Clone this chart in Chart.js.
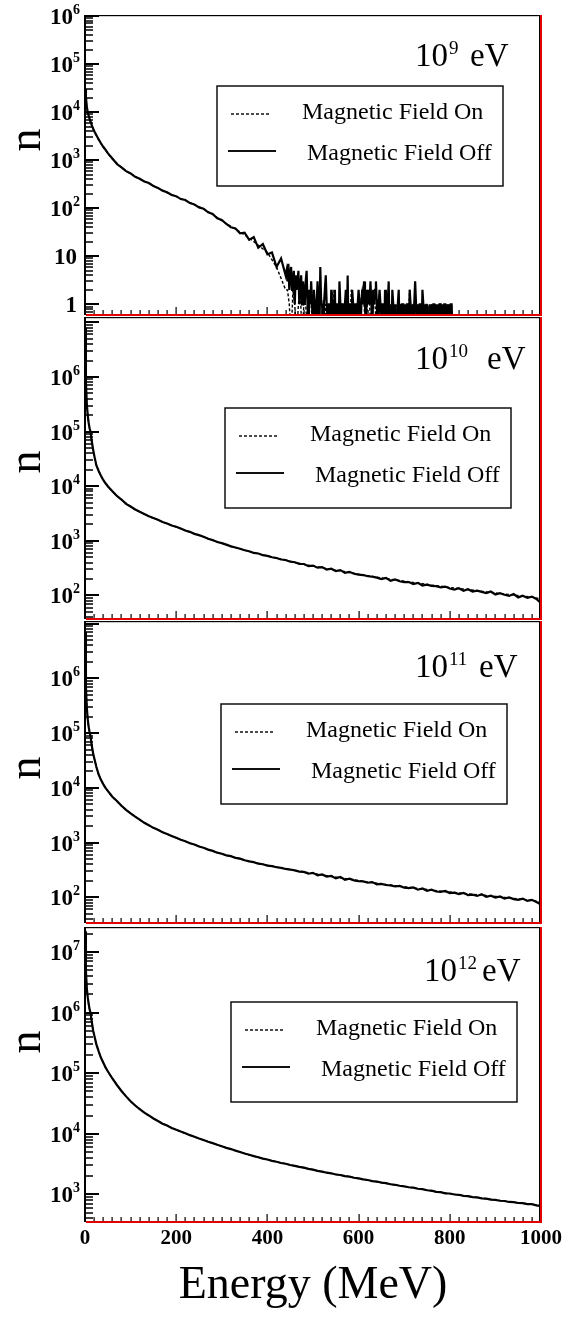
<!DOCTYPE html>
<html lang="en">
<head>
<meta charset="utf-8">
<title>Energy spectra - Magnetic Field On / Off</title>
<script src="https://cdn.jsdelivr.net/npm/chart.js@4.4.1/dist/chart.umd.min.js"></script>
<style>
  html, body { margin: 0; padding: 0; background: #fff; overflow: hidden; }
  #lienzo { position: relative; width: 569px; height: 1320px; }
  #lienzo canvas { position: absolute; left: 0; top: 0; }
</style>
</head>
<body>
<div id="lienzo">
  <canvas id="panel1" width="569" height="1320"></canvas>
  <canvas id="panel2" width="569" height="1320"></canvas>
  <canvas id="panel3" width="569" height="1320"></canvas>
  <canvas id="panel4" width="569" height="1320"></canvas>
</div>
<script>
// Energias (MeV) de los bins
const E_P1_OFF = [1, 2, 4, 6, 8, 10, 12, 15, 18, 21, 25, 30, 35, 40, 45, 50,
  60, 70, 80, 90, 100, 110, 120, 130, 140, 150, 160, 170, 180, 190, 200, 210, 220, 230, 240, 250,
  260, 270, 280, 290, 300, 310, 320, 330, 340, 350, 360, 370, 380, 390, 400, 410, 420, 430, 440,
  442, 444, 446, 448, 450, 452, 454, 456, 458, 460, 462, 464, 466, 468, 470, 472, 474, 476, 478, 480,
  482, 484, 486, 488, 490, 492, 494, 496, 498, 500, 502, 504, 506, 508, 510, 512, 514, 516, 518, 520,
  522, 524, 526, 528, 530, 532, 534, 536, 538, 540, 542, 544, 546, 548, 550, 552, 554, 556, 558, 560,
  562, 564, 566, 568, 570, 572, 574, 576, 578, 580, 582, 584, 586, 588, 590, 592, 594, 596, 598, 600,
  602, 604, 606, 608, 610, 612, 614, 616, 618, 620, 622, 624, 626, 628, 630, 632, 634, 636, 638, 640,
  642, 644, 646, 648, 650, 652, 654, 656, 658, 660, 662, 664, 666, 668, 670, 672, 674, 676, 678, 680,
  682, 684, 686, 688, 690, 692, 694, 696, 698, 700, 702, 704, 706, 708, 710, 712, 714, 716, 718, 720,
  722, 724, 726, 728, 730, 732, 734, 736, 738, 740, 742, 744, 746, 748, 750, 752, 754, 756, 758, 760,
  762, 764, 766, 768, 770, 772, 774, 776, 778, 780, 782, 784, 786, 788, 790, 792, 794, 796, 798, 800,
  802, 804, 806, 808, 810];
const E_P1_ON = [1, 2, 4, 6, 8, 10, 12, 15, 18, 21, 25, 30, 35, 40, 45, 50,
  60, 80, 100, 120, 140, 160, 180, 200, 220, 240, 260, 280, 300, 320, 340, 360, 380, 400, 420, 440,
  444, 448, 452, 456, 460, 464, 468, 472, 476, 480, 484, 488, 492, 496, 500, 504, 508, 512, 516, 520,
  524, 528, 532, 536, 540, 544, 548, 552, 556, 560, 564, 568, 572, 576, 580, 584, 588, 592, 596, 600,
  604, 608, 612, 616, 620, 624, 628, 632, 636, 640, 644, 648, 652, 656, 660, 664, 668, 672, 676, 680,
  684, 688, 692, 696, 700, 704, 708, 712, 716, 720, 724, 728, 732, 736, 740, 744, 748, 752, 756, 760,
  764, 768, 772, 776, 780, 784, 788, 792, 796, 800, 804, 808];
const E_OFF = [1, 2, 4, 6, 8, 10, 12, 15, 18, 21, 25, 30, 35, 40, 45, 50,
  60, 70, 80, 90, 100, 110, 120, 130, 140, 150, 160, 170, 180, 190, 200, 210, 220, 230, 240, 250,
  260, 270, 280, 290, 300, 310, 320, 330, 340, 350, 360, 370, 380, 390, 400, 410, 420, 430, 440, 450,
  460, 470, 480, 490, 500, 510, 520, 530, 540, 550, 560, 570, 580, 590, 600, 610, 620, 630, 640, 650,
  660, 670, 680, 690, 700, 710, 720, 730, 740, 750, 760, 770, 780, 790, 800, 810, 820, 830, 840, 850,
  860, 870, 880, 890, 900, 910, 920, 930, 940, 950, 960, 970, 980, 990, 1000];
const E_ON = [1, 2, 4, 6, 8, 10, 12, 15, 18, 21, 25, 30, 35, 40, 45, 50,
  60, 80, 100, 120, 140, 160, 180, 200, 220, 240, 260, 280, 300, 320, 340, 360, 380, 400, 420, 440,
  460, 480, 500, 520, 540, 560, 580, 600, 620, 640, 660, 680, 700, 720, 740, 760, 780, 800, 820, 840,
  860, 880, 900, 920, 940, 960, 980, 1000];

// 10^9 eV (0 = bin vacio)
const N_P1_OFF = [30000, 21000, 13000, 10000, 8500, 7200, 6400, 5300, 4500, 3900, 3300, 2700, 2250, 1900, 1650, 1400,
  1080, 830, 710, 590, 530, 450, 410, 360, 335, 290, 265, 232, 215, 188, 178, 155, 148, 128, 120, 104,
  98, 82, 76, 62, 57, 47, 40, 38, 30, 31, 22, 25, 15, 18, 11, 12, 6, 9, 4,
  5, 3, 7, 2, 4, 6, 2, 3, 5, 1, 4, 2, 3, 5, 1, 2, 4, 1, 3, 2,
  1, 3, 5, 1, 0, 2, 1, 3, 1, 0, 2, 1, 0, 1, 3, 1, 0, 6, 1, 1,
  0, 1, 2, 4, 1, 0, 1, 1, 0, 2, 1, 0, 1, 2, 0, 1, 1, 0, 3, 1,
  0, 1, 1, 0, 1, 2, 0, 4, 0, 1, 1, 0, 2, 1, 0, 1, 1, 0, 1, 2,
  1, 0, 1, 2, 1, 3, 1, 0, 2, 1, 2, 1, 3, 1, 0, 2, 1, 2, 3, 1,
  0, 1, 2, 1, 0, 1, 1, 0, 2, 1, 0, 1, 3, 0, 1, 0, 2, 1, 0, 1,
  1, 0, 1, 2, 0, 1, 0, 1, 1, 0, 1, 0, 1, 1, 0, 2, 1, 0, 1, 0,
  1, 3, 1, 0, 1, 0, 1, 1, 0, 2, 1, 0, 1, 0, 1, 1, 0, 1, 0, 1,
  0, 1, 1, 0, 1, 0, 1, 0, 1, 1, 0, 1, 0, 1, 1, 0, 1, 0, 1, 0,
  1, 1, 0, 0, 0];
const N_P1_ON = [29000, 20000, 12500, 9800, 8300, 7100, 6300, 5200, 4400, 3850, 3250, 2650, 2200, 1880, 1620, 1380,
  1060, 700, 525, 405, 330, 262, 210, 175, 145, 118, 96, 74, 55, 42, 32, 24, 17, 12, 6, 2,
  2, 1, 0, 2, 1, 0, 1, 2, 0, 1, 1, 0, 2, 1, 0, 1, 1, 0, 2, 1,
  0, 1, 1, 0, 1, 2, 0, 1, 0, 1, 1, 0, 1, 1, 0, 2, 1, 0, 1, 0,
  1, 2, 1, 0, 2, 1, 0, 2, 1, 0, 1, 1, 0, 1, 0, 1, 1, 0, 1, 0,
  1, 0, 1, 1, 0, 1, 0, 2, 0, 1, 1, 0, 1, 0, 1, 0, 1, 1, 0, 1,
  0, 1, 0, 1, 1, 0, 1, 0, 1, 0, 1, 0];

// 10^10 eV
const N_P2_OFF = [8000000, 800000, 320000, 200000, 145000, 115000, 100000, 65000, 46000, 34000, 24000, 19000, 15500, 13000, 11300, 10000,
  8100, 6600, 5700, 4750, 4250, 3750, 3400, 3100, 2820, 2620,
  2420, 2210, 2080, 1900, 1810, 1680, 1540, 1460, 1340, 1270,
  1190, 1090, 1030, 950, 905, 850, 790, 755, 715, 670,
  645, 600, 585, 545, 530, 500, 485, 455, 445, 415,
  405, 378, 376, 345, 352, 322, 330, 298, 309, 280,
  290, 258, 270, 249, 240, 236, 224, 220, 212, 199,
  210, 186, 196, 182, 175, 176, 162, 170, 152, 158,
  150, 148, 140, 145, 134, 128, 135, 121, 130, 118,
  122, 116, 110, 118, 104, 110, 103, 98, 106, 92,
  99, 90, 95, 86, 72];
const N_P2_ON = [7800000, 780000, 310000, 195000, 142000, 113000, 98000, 64000, 45000, 33500, 24000, 18800, 15300, 12900, 11200, 9900,
  8000, 5650, 4200, 3380, 2800, 2400, 2060, 1790, 1540, 1340,
  1180, 1020, 900, 795, 712, 640, 580, 528, 482, 440,
  402, 370, 344, 320, 300, 281, 262, 245, 230, 216,
  203, 193, 182, 172, 164, 155, 148, 140, 134, 128,
  122, 116, 111, 106, 102, 97, 93, 86];

// 10^11 eV
const N_P3_OFF = [7000000, 700000, 290000, 180000, 130000, 105000, 90000, 58000, 42000, 33000, 24000, 17500, 14000, 11700, 10000, 8800,
  6900, 5750, 4700, 3950, 3420, 2980, 2620, 2300, 2070, 1860,
  1710, 1550, 1440, 1320, 1230, 1130, 1060, 975, 925, 850,
  805, 745, 705, 655, 625, 585, 565, 525, 510, 475,
  455, 440, 412, 402, 380, 372, 355, 345, 330, 322,
  310, 296, 292, 270, 280, 252, 262, 240, 246, 222,
  236, 210, 220, 204, 198, 196, 185, 190, 172, 176,
  168, 165, 158, 162, 150, 148, 152, 138, 145, 132,
  138, 128, 126, 131, 120, 122, 115, 121, 110, 112,
  106, 114, 102, 107, 99, 104, 95, 100, 93, 90,
  95, 86, 90, 82, 74];
const N_P3_ON = [6800000, 680000, 285000, 178000, 128000, 104000, 89000, 57000, 41500, 32500, 23800, 17300, 13900, 11600, 9900, 8700,
  6850, 4680, 3400, 2600, 2060, 1700, 1430, 1220, 1050, 918,
  800, 700, 620, 560, 505, 458, 418, 386, 360, 334,
  312, 292, 274, 257, 242, 228, 215, 203, 192, 182,
  172, 164, 156, 149, 142, 136, 130, 125, 120, 116,
  112, 108, 104, 100, 96, 92, 88, 82];

// 10^12 eV
const N_P4_OFF = [22000000, 5000000, 2500000, 1800000, 1400000, 1150000, 1000000, 700000, 500000, 400000, 300000, 230000, 180000, 150000, 125000, 108000,
  82000, 64000, 51000, 41500, 34500, 29300, 25600, 22400, 20100, 17900,
  16300, 14700, 13700, 12500, 11700, 10900, 10200, 9500, 8950, 8350,
  7900, 7400, 7020, 6580, 6230, 5870, 5600, 5280, 5020, 4740,
  4520, 4290, 4110, 3900, 3760, 3580, 3460, 3300, 3210, 3060,
  2960, 2840, 2760, 2640, 2560, 2450, 2380, 2280, 2230, 2130,
  2090, 2000, 1960, 1880, 1840, 1770, 1730, 1660, 1630, 1560,
  1530, 1470, 1440, 1390, 1360, 1310, 1290, 1240, 1220, 1170,
  1150, 1100, 1090, 1040, 1035, 995, 985, 945, 935, 900,
  890, 860, 850, 820, 812, 785, 778, 750, 745, 720,
  715, 690, 690, 660, 640];
const N_P4_ON = [21000000, 4900000, 2450000, 1780000, 1380000, 1140000, 990000, 690000, 495000, 395000, 297000, 228000, 179000, 149000, 124000, 107000,
  81500, 50800, 34400, 25500, 20000, 16200, 13600, 11650, 10150, 8900,
  7880, 6990, 6200, 5580, 5000, 4500, 4100, 3750, 3450, 3200,
  2950, 2750, 2550, 2370, 2220, 2080, 1950, 1830, 1720, 1620,
  1520, 1430, 1350, 1280, 1210, 1140, 1080, 1030, 980, 930,
  885, 845, 808, 775, 740, 710, 685, 650];

// Marcas de los ejes
const ETIQUETAS_X = [0, 200, 400, 600, 800, 1000];
const ETIQ_Y_P1 = [1, 10, 100, 1000, 10000, 100000, 1000000];
const ETIQ_Y_P2 = [100, 1000, 10000, 100000, 1000000];
const ETIQ_Y_P3 = [100, 1000, 10000, 100000, 1000000];
const ETIQ_Y_P4 = [1000, 10000, 100000, 1000000, 10000000];
const EXPONENTES = ["9", "10", "11", "12"];
const LEYENDA = ["Magnetic Field On", "Magnetic Field Off"];

const FUENTE = "'Liberation Serif', 'Times New Roman', serif";
const ALTO = 1320;
const VACIO = 0.2; // bins vacios caen bajo el eje (se recortan)

const paneles = [
  { id: "panel1", arriba: 16, abajo: 315, min: 0.62, max: 1e6, eOff: E_P1_OFF, nOff: N_P1_OFF, eOn: E_P1_ON, nOn: N_P1_ON,
    etiquetas: ETIQ_Y_P1, exp: EXPONENTES[0], tit: { x: 415, xEv: 470, y: 66 }, caja: { x: 217, y: 86 }, nY: 140 },
  { id: "panel2", arriba: 318, abajo: 619, min: 37, max: 1.2e7, eOff: E_OFF, nOff: N_P2_OFF, eOn: E_ON, nOn: N_P2_ON,
    etiquetas: ETIQ_Y_P2, exp: EXPONENTES[1], tit: { x: 415, xEv: 487, y: 369 }, caja: { x: 225, y: 408 }, nY: 462 },
  { id: "panel3", arriba: 622, abajo: 923, min: 34, max: 1.07e7, eOff: E_OFF, nOff: N_P3_OFF, eOn: E_ON, nOn: N_P3_ON,
    etiquetas: ETIQ_Y_P3, exp: EXPONENTES[2], tit: { x: 415, xEv: 479, y: 677 }, caja: { x: 221, y: 704 }, nY: 768 },
  { id: "panel4", arriba: 928, abajo: 1222, min: 350, max: 2.5e7, eOff: E_OFF, nOff: N_P4_OFF, eOn: E_ON, nOn: N_P4_ON,
    etiquetas: ETIQ_Y_P4, exp: EXPONENTES[3], tit: { x: 424, xEv: 482, y: 981 }, caja: { x: 231, y: 1002 }, nY: 1042, ultimo: true },
];

function puntos(energias, cuentas) {
  return energias.map((e, i) => ({ x: e, y: cuentas[i] > 0 ? cuentas[i] : VACIO }));
}

function crearMarco(panel) {
  return {
    id: "marco",
    afterDraw(chart) {
      const { ctx, chartArea } = chart;
      const { left, right, top, bottom } = chartArea;
      const ejeX = chart.scales.x;
      const ejeY = chart.scales.y;
      ctx.save();

      // ticks menores y mayores del eje log, hacia adentro
      ctx.fillStyle = "#000";
      const desde = Math.floor(Math.log10(panel.min));
      const hasta = Math.ceil(Math.log10(panel.max));
      for (let k = desde; k <= hasta; k++) {
        for (let m = 1; m <= 9; m++) {
          const valor = m * Math.pow(10, k);
          if (valor < panel.min || valor > panel.max) continue;
          const py = Math.round(ejeY.getPixelForValue(valor));
          if (m === 1) ctx.fillRect(left, py - 1, 14, 2);
          else ctx.fillRect(left, py - 0.75, 8, 1.5);
        }
      }

      // ticks del eje x, hacia arriba
      for (let e = 0; e <= 1000; e += 20) {
        const px = Math.round(ejeX.getPixelForValue(e));
        const largo = e % 200 === 0 ? 8 : 5;
        ctx.fillRect(px - 0.5, bottom - largo, 1.2, largo);
      }

      // marco
      ctx.fillRect(left - 1, top - 1, 2, bottom - top + 1);
      ctx.fillRect(left - 1, top - 1, right - left + 1, 1.2);
      ctx.fillRect(right - 2, top - 1, 1, bottom - top);
      ctx.fillStyle = "#e00000";
      ctx.fillRect(right - 1, top - 1, 2, bottom - top + 1);
      ctx.fillRect(left + 1, bottom - 1, right - left, 2);

      // etiquetas del eje y con exponente
      ctx.fillStyle = "#000";
      ctx.textBaseline = "alphabetic";
      ctx.textAlign = "left";
      panel.etiquetas.forEach((valor) => {
        const py = ejeY.getPixelForValue(valor);
        const exp = Math.round(Math.log10(valor));
        const base = exp === 0 ? "1" : "10";
        const sup = exp > 1 ? String(exp) : "";
        ctx.font = `bold 14px ${FUENTE}`;
        const anchoSup = sup ? ctx.measureText(sup).width : 0;
        ctx.font = `bold 23px ${FUENTE}`;
        const anchoBase = ctx.measureText(base).width;
        const derecha = sup ? 80 : 77;
        ctx.fillText(base, derecha - anchoSup - anchoBase, py + 8);
        if (sup) {
          ctx.font = `bold 14px ${FUENTE}`;
          ctx.fillText(sup, derecha - anchoSup, py - 2);
        }
      });

      // titulo del panel
      ctx.font = `33px ${FUENTE}`;
      ctx.fillText("10", panel.tit.x, panel.tit.y);
      const ancho10 = ctx.measureText("10").width;
      ctx.font = `19px ${FUENTE}`;
      ctx.fillText(panel.exp, panel.tit.x + ancho10 + 1, panel.tit.y - 12);
      ctx.font = `33px ${FUENTE}`;
      ctx.fillText("eV", panel.tit.xEv, panel.tit.y);

      // leyenda
      const { x: cx, y: cy } = panel.caja;
      ctx.fillStyle = "#fff";
      ctx.fillRect(cx, cy, 286, 100);
      ctx.strokeStyle = "#111";
      ctx.lineWidth = 1.5;
      ctx.strokeRect(cx, cy, 286, 100);
      const [datosOn, datosOff] = chart.data.datasets;
      ctx.beginPath();
      ctx.setLineDash(datosOn.borderDash);
      ctx.lineWidth = 1.4;
      ctx.moveTo(cx + 14, cy + 28);
      ctx.lineTo(cx + 52, cy + 28);
      ctx.stroke();
      ctx.beginPath();
      ctx.setLineDash([]);
      ctx.lineWidth = 1.8;
      ctx.moveTo(cx + 11, cy + 65);
      ctx.lineTo(cx + 59, cy + 65);
      ctx.stroke();
      ctx.fillStyle = "#000";
      ctx.font = `24px ${FUENTE}`;
      ctx.textBaseline = "middle";
      ctx.fillText(datosOn.label, cx + 85, cy + 27);
      ctx.fillText(datosOff.label, cx + 90, cy + 68);

      // titulo del eje y
      ctx.save();
      ctx.translate(28, panel.nY);
      ctx.rotate(-Math.PI / 2);
      ctx.textAlign = "center";
      ctx.font = `46px ${FUENTE}`;
      ctx.fillText("n", 0, 0);
      ctx.restore();

      ctx.restore();
    },
  };
}

function crearPanel(panel) {
  const ultimo = Boolean(panel.ultimo);
  return new Chart(document.getElementById(panel.id), {
    type: "line",
    data: {
      datasets: [
        { label: LEYENDA[0], data: puntos(panel.eOn, panel.nOn), borderColor: "#000", borderWidth: 1.4, borderDash: [3, 2],
          pointRadius: 0, tension: 0, order: 1, clip: 0 },
        { label: LEYENDA[1], data: puntos(panel.eOff, panel.nOff), borderColor: "#000", borderWidth: 2.2,
          pointRadius: 0, tension: 0, order: 0, clip: 0 },
      ],
    },
    options: {
      responsive: false,
      animation: false,
      events: [],
      layout: { padding: { top: panel.arriba, bottom: ultimo ? 0 : ALTO - panel.abajo, left: 0, right: 28 } },
      plugins: { legend: { display: false }, tooltip: { enabled: false } },
      scales: {
        x: {
          type: "linear", min: 0, max: 1000, display: ultimo,
          grid: { display: false, drawTicks: false }, border: { display: false },
          afterBuildTicks: (escala) => { escala.ticks = ETIQUETAS_X.map((v) => ({ value: v })); },
          afterFit: (escala) => { escala.height = ultimo ? ALTO - panel.abajo : 0; },
          ticks: { color: "#000", padding: 4, maxRotation: 0, autoSkip: false, callback: (v) => String(v),
            font: { family: FUENTE, size: 21, weight: "bold" } },
          title: { display: true, text: "Energy (MeV)", color: "#000", font: { family: FUENTE, size: 46 },
            padding: { top: 0, bottom: 6 } },
        },
        y: {
          type: "logarithmic", min: panel.min, max: panel.max,
          grid: { display: false, drawTicks: false }, border: { display: false },
          ticks: { display: false },
          afterFit: (escala) => { escala.width = 85; },
        },
      },
    },
    plugins: [crearMarco(panel)],
  });
}

paneles.forEach(crearPanel);
</script>
</body>
</html>
